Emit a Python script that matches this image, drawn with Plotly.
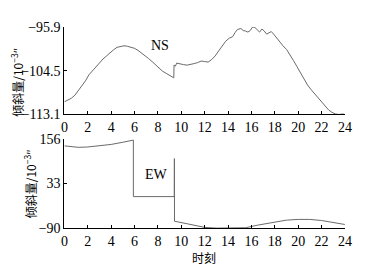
import plotly.graph_objects as go

# NS series (hour, tilt)
ns_t = [0.0, 0.3, 0.6, 0.9, 1.2, 1.5, 1.8, 2.1, 2.4, 2.7, 3.0, 3.3, 3.6, 3.9, 4.2, 4.5, 4.8, 5.1, 5.4, 5.7,
        6.0, 6.3, 6.6, 6.9, 7.2, 7.5, 7.8, 8.1, 8.4, 8.7, 9.0, 9.3, 9.36, 9.38, 9.5, 9.6, 9.9, 10.2, 10.5, 10.8,
        11.1, 11.4, 11.7, 12.0, 12.3, 12.6, 12.9, 13.2, 13.5, 13.8, 14.1, 14.4, 14.6, 14.8, 15.1, 15.3, 15.5,
        15.7, 15.9, 16.1, 16.3, 16.5, 16.7, 16.9, 17.1, 17.3, 17.5, 17.7, 17.9, 18.1, 18.4, 18.7, 19.0, 19.3,
        19.6, 19.9, 20.2, 20.5, 20.8, 21.1, 21.4, 21.7, 22.0, 22.3, 22.6, 22.9, 23.2, 23.5, 23.8, 24.0]
ns_v = [-110.6, -110.2, -109.9, -109.3, -108.4, -107.6, -106.5, -105.3, -104.5, -103.6, -102.9, -102.2, -101.6,
        -100.9, -100.4, -99.9, -99.7, -99.6, -99.7, -99.9, -100.1, -100.5, -101.0, -101.5, -102.1, -102.7, -103.4,
        -104.0, -104.6, -105.0, -105.4, -105.8, -105.9, -103.4, -103.6, -103.0, -103.2, -103.3, -103.4, -103.3,
        -103.1, -102.9, -102.6, -102.7, -102.8, -102.3, -101.6, -100.6, -99.6, -98.7, -98.1, -97.8, -97.0, -96.4,
        -96.2, -96.6, -96.7, -96.9, -96.6, -95.9, -96.0, -96.5, -96.9, -96.3, -96.7, -97.3, -97.0, -96.8, -97.3,
        -97.9, -98.9, -99.6, -100.3, -101.3, -102.5, -103.7, -104.9, -106.2, -107.3, -108.2, -109.0, -109.8,
        -110.7, -111.6, -112.2, -112.7, -113.0, -113.1, -113.0, -113.1]

# EW series (hour, tilt)
ew_t = [0, 0.6, 1.2, 2.0, 3.0, 4.0, 5.0, 5.9, 5.9, 9.4, 9.41, 9.42, 10.5, 12.0, 13.0, 14.5, 15.5, 16.5, 17.8,
        19.0, 20.0, 21.0, 22.0, 23.0, 24.0]
ew_v = [137, 135, 133, 134, 137, 141, 147, 153, -3, -3, 102, -71, -78, -88, -90, -90, -89, -82, -74, -68, -66,
        -66, -69, -74, -80]

x_ticks = list(range(0, 25, 2))
ns_ticks = [-113.1, -104.5, -95.9]
ns_ticktext = ["\u2212113.1", "\u2212104.5", "\u221295.9"]
ew_ticks = [-90, 33, 156]
ew_ticktext = ["\u221290", "33", "156"]

OFF = 8  # page body margin
W, H = 382 - OFF, 271 - OFF


def px(x):
    return (x - OFF) / W


def py(y):
    return 1 - (y - OFF) / H


xd = [px(62), px(351)]
top_d = [py(113.5), py(20.7)]
bot_d = [py(234), py(139.5)]

serif = "Liberation Serif"
cjk = "Noto Sans CJK SC"
line_color = "#6a6a6a"

fig = go.Figure()
fig.add_trace(go.Scatter(x=ns_t, y=ns_v, mode="lines", line=dict(color=line_color, width=1),
                         xaxis="x", yaxis="y", showlegend=False))
fig.add_trace(go.Scatter(x=ew_t, y=ew_v, mode="lines", line=dict(color=line_color, width=1),
                         xaxis="x2", yaxis="y2", showlegend=False))

axis_common = dict(showline=True, linecolor="black", linewidth=1, ticks="inside", ticklen=3,
                   tickcolor="black", showgrid=False, zeroline=False,
                   tickfont=dict(family=serif, size=14, color="black"))


def ann(text, x, y, font, size, angle=0):
    return dict(text=text, x=px(x), y=py(y), xref="paper", yref="paper", showarrow=False,
                xanchor="center", yanchor="middle", textangle=angle,
                font=dict(family=font, size=size, color="black"))


fig.update_layout(
    width=W, height=H,
    margin=dict(l=0, r=0, t=0, b=0),
    paper_bgcolor="white", plot_bgcolor="white",
    xaxis=dict(domain=xd, anchor="y", range=[0, 24], tickvals=x_ticks, **axis_common),
    yaxis=dict(domain=top_d, anchor="x", range=[-113.1, -95.9], tickvals=ns_ticks,
               ticktext=ns_ticktext, **axis_common),
    xaxis2=dict(domain=xd, anchor="y2", range=[0, 24], tickvals=x_ticks, **axis_common),
    yaxis2=dict(domain=bot_d, anchor="x2", range=[-90, 156], tickvals=ew_ticks,
                ticktext=ew_ticktext, **axis_common),
    annotations=[
        ann("NS", 160.5, 40, serif, 14),
        ann("EW", 156.5, 177, serif, 14),
        ann("时刻", 206, 265, cjk, 12),
        ann("倾斜量/10<sup>−3</sup>″", 13, 79, cjk, 12, -90),
        ann("倾斜量/10<sup>−3</sup>″", 26, 187, cjk, 12, -90),
    ],
)

fig.write_html("out.html")
